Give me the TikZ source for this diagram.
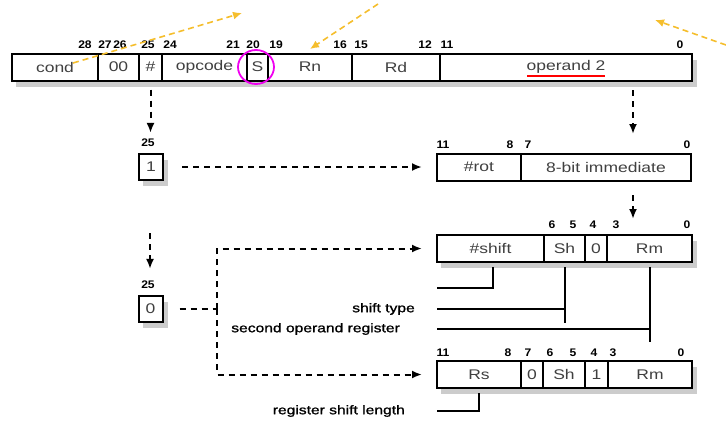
\documentclass[tikz,border=0pt]{standalone}
\usepackage{fontspec}
\usepackage{tikz}
\usetikzlibrary{arrows.meta, positioning, shapes.geometric, calc, backgrounds}
\newfontfamily\cellfont[FakeStretch=1.25]{Liberation Sans}
\newfontfamily\notefont[FakeStretch=1.25, FakeBold=1.2]{Liberation Sans}
\newfontfamily\numfont[FakeStretch=1.1]{Liberation Sans Bold}
\definecolor{hiyellow}{RGB}{245,190,45}
\definecolor{ringpink}{RGB}{240,0,240}
\tikzset{%
   % one bit field of an instruction word
   field/.style={
      draw,
      fill=white,
      line width=2pt,
      minimum height=27pt,
      inner sep=0pt,
      outer sep=0pt,
      text=black!75,
      font=\cellfont\fontsize{14}{16}\selectfont
   },
   shade/.style={
      fill=gray!40
   },
   bitno/.style={
      inner sep=0pt,
      font=\numfont\fontsize{11}{13}\selectfont
   },
   note/.style={
      inner sep=0pt,
      font=\notefont\fontsize{12.5}{14}\selectfont
   },
   dashline/.style={
      line width=2pt,
      dash pattern=on 6pt off 5pt
   },
   dasharrow/.style={
      dashline,
      -{Latex[length=10pt, width=8pt]}
   },
   wire/.style={
      line width=2pt
   },
   yarrow/.style={
      draw=hiyellow,
      line width=1.6pt,
      dash pattern=on 6pt off 4pt,
      -{Latex[length=9pt, width=8pt]}
   },
}

\begin{document}
\begin{tikzpicture}[x=1pt, y=-1pt]
   \useasboundingbox (0,0) rectangle (726,421);

   % instruction word
   \node[field, minimum width=86, anchor=west] (cond) at (12,67) {cond};
   \node[field, minimum width=41, right=0pt of cond] (zz) {00};
   \node[field, minimum width=23, right=0pt of zz] (hash) {\#};
   \node[field, minimum width=85, right=0pt of hash] (opc) {opcode};
   \node[field, minimum width=21, right=0pt of opc] (sbit) {S};
   \node[field, minimum width=84, right=0pt of sbit] (rn) {Rn};
   \node[field, minimum width=88, right=0pt of rn] (rd) {Rd};
   \node[field, minimum width=252, right=0pt of rd] (op2) {operand 2};
   \foreach \x/\b in {85/28,105/27,120/26,148/25,170/24,233/21,253/20,
                      276/19,340/16,361/15,425/12,447/11,680/0}
      \node[bitno] (top\b) at (\x,45) {\b};

   \node[draw=ringpink, line width=1.8pt, ellipse, minimum width=36,
         minimum height=34] (sring) at (256,67) {};
   \draw[red, line width=1.2pt] ([xshift=-39pt, yshift=-9pt]op2.center)
      -- ([xshift=39pt, yshift=-9pt]op2.center);

   % immediate operand
   \node[field, minimum width=84, anchor=west] (rot) at (437,167) {\#rot};
   \node[field, minimum width=170, right=0pt of rot] (imm8) {8-bit immediate};
   \foreach \x/\b in {443/11,510/8,528/7,687/0}
      \node[bitno] (imm\b) at (\x,145) {\b};

   % register operand, shift by constant
   \node[field, minimum width=107, anchor=west] (shamt) at (437,248.5) {\#shift};
   \node[field, minimum width=41, right=0pt of shamt] (sh1) {Sh};
   \node[field, minimum width=22, right=0pt of sh1] (za) {0};
   \node[field, minimum width=85, right=0pt of za] (rm1) {Rm};
   \foreach \x/\b in {552/6,573/5,593/4,616/3,687/0}
      \node[bitno] (sft\b) at (\x,225) {\b};

   % register operand, shift by register
   \node[field, minimum width=84, anchor=west] (rs) at (437,374.5) {Rs};
   \node[field, minimum width=22, right=0pt of rs] (zb) {0};
   \node[field, minimum width=42, right=0pt of zb] (sh2) {Sh};
   \node[field, minimum width=23, right=0pt of sh2] (ob) {1};
   \node[field, minimum width=84, right=0pt of ob] (rm2) {Rm};
   \foreach \x/\b in {443/11,508/8,528/7,550/6,573/5,594/4,613/3,681/0}
      \node[bitno] (reg\b) at (\x,353) {\b};

   % bit 25
   \node[field, minimum width=24, minimum height=26] (ione) at (151,167) {1};
   \node[bitno] (ia) at (148,143) {25};
   \node[field, minimum width=24, minimum height=26] (izero) at (150.5,309) {0};
   \node[bitno] (ib) at (148,285) {25};

   % shadows
   \begin{scope}[on background layer]
      \foreach \a/\b in {cond/op2, rot/imm8, shamt/rm1, rs/rm2, ione/ione, izero/izero}
         \fill[shade] ([xshift=4pt, yshift=-6pt]\a.north west)
            rectangle ([xshift=5pt, yshift=-6pt]\b.south east);
   \end{scope}

   \coordinate (opdrop) at (633,90);
   \coordinate (opend) at (633,134);
   \coordinate (immdrop) at (633,195);
   \coordinate (immend) at (633,219);
   \coordinate (zdrop) at (150,233);
   \coordinate (split) at (217,309);
   \draw[dasharrow, shorten <=9pt, shorten >=6pt] (hash.south) -- (hash.south |- ia.north);
   \draw[dasharrow, shorten <=19pt, shorten >=15pt] (ione.east) -- (rot.west);
   \draw[dasharrow] (opdrop) -- (opend);
   \draw[dasharrow] (immdrop) -- (immend);
   \draw[dasharrow, shorten >=12pt] (zdrop) -- (zdrop |- ib.north);
   \draw[dashline, shorten <=17pt] (izero.east) -- (split);
   \draw[dasharrow, shorten >=15pt] (split) |- (shamt.west);
   \draw[dasharrow, shorten >=15pt] (split) |- (rs.west);

   % field wires
   \coordinate (w1) at (437,288);
   \coordinate (w2) at (437,309);
   \coordinate (w3) at (437,329);
   \coordinate (w4) at (437,411);
   \coordinate (shend) at (565,323);
   \coordinate (rmend) at (648,342);
   \draw[wire] ([xshift=2.5pt, yshift=-5pt]shamt.south) |- (w1);
   \draw[wire] ([yshift=-5pt]sh1.south) -- (sh1.south |- shend);
   \draw[wire] (w2) -- (w2 -| sh1.south);
   \draw[wire] ([yshift=-5pt]rm1.south) -- (rm1.south |- rmend);
   \draw[wire] (w3) -- (w3 -| rm1.south);
   \draw[wire] ([yshift=-5pt]rs.south) |- (w4);
   \node[note, anchor=east] (lsht) at (415,309) {shift type};
   \node[note, anchor=east] (lrm) at (400,329) {second operand register};
   \node[note, anchor=east] (lrs) at (405,411) {register shift length};

   % highlight arrows
   \coordinate (ya) at (73,63);
   \coordinate (yb) at (242,13);
   \coordinate (yc) at (378,4);
   \coordinate (yd) at (310,49);
   \coordinate (ye) at (726,45);
   \coordinate (yf) at (655,20);
   \draw[yarrow] (ya) -- (yb);
   \draw[yarrow] (yc) -- (yd);
   \draw[yarrow] (ye) -- (yf);
\end{tikzpicture}
\end{document}
